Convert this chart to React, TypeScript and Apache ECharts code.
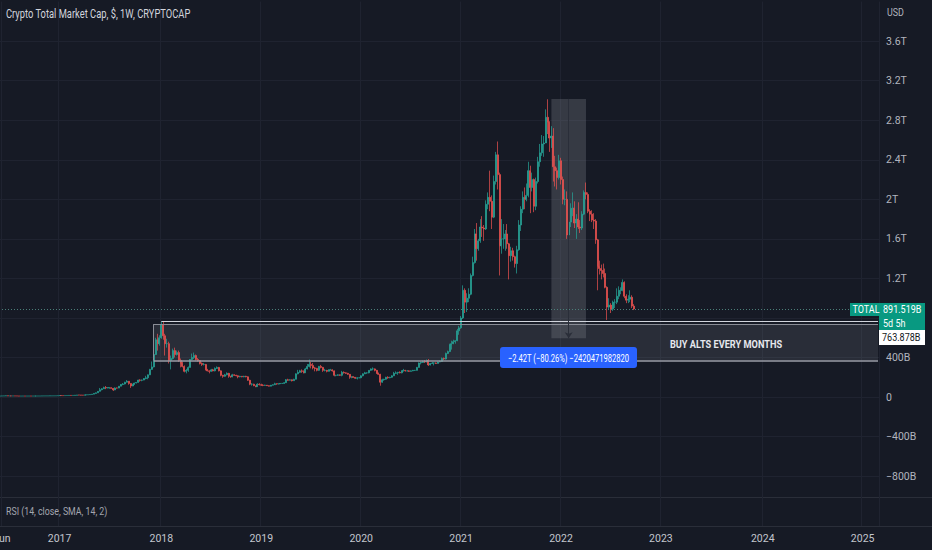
import React, { useEffect, useRef } from 'react';
import * as echarts from 'echarts';

// ---------- data (values in billions of USD, weekly candles from 2016-05-23) ----------
const WEEK_START_UTC = Date.UTC(2016, 4, 23);
const WEEK_COUNT = 458; // visible weekly slots up to mid-2025
const firstOpen = 10.2;

const closes = [
  // 2016
  10.5, 11.5, 12.0, 12.8, 11.5, 11.8, 11.4, 11.6, 11.4, 10.9, 10.0, 10.2, 10.3, 10.2, 10.4, 10.6,
  10.4, 10.4, 10.5, 10.6, 10.7, 10.8, 11.6, 11.7, 11.9, 11.9, 12.2, 12.6, 12.6, 12.9, 14.2, 16.0,
  // 2017
  15.0, 14.8, 15.2, 15.4, 16.8, 16.4, 17.0, 18.6, 20.6, 20.4, 19.5, 18.8, 21.8, 22.6, 24.0, 25.5,
  29.5, 37.0, 43.0, 58.0, 75.0, 84.0, 96.0, 92.0, 95.0, 95.0, 88.0, 72.0, 92.0, 91.0, 110.0, 128.0,
  132.0, 150.0, 160.0, 138.0, 112.0, 128.0, 142.0, 148.0, 172.0, 170.0, 172.0, 188.0, 195.0, 225.0,
  280.0, 305.0, 430.0, 580.0, 540.0, 600.0,
  // 2018
  730, 620, 540, 540, 370, 390, 470, 430, 450, 370, 340, 310, 260, 270, 300, 380, 400, 420, 380, 370,
  340, 330, 330, 275, 265, 260, 275, 265, 290, 300, 265, 220, 210, 225, 240, 210, 205, 225, 220, 215,
  205, 210, 205, 210, 205, 170, 130, 130, 115, 105, 130, 125,
  // 2019
  120, 118, 120, 115, 110, 120, 125, 135, 132, 135, 138, 138, 145, 175, 170, 175, 165, 180, 235, 250,
  265, 260, 245, 285, 310, 330, 320, 295, 290, 270, 310, 300, 270, 270, 260, 275, 275, 265, 220, 220,
  225, 220, 250, 245, 240, 230, 200, 205, 200, 190, 195, 195,
  // 2020
  215, 235, 245, 245, 270, 285, 285, 270, 240, 230, 150, 175, 180, 200, 195, 200, 215, 240, 245, 250,
  245, 265, 270, 265, 265, 260, 265, 270, 270, 300, 345, 350, 360, 355, 370, 325, 340, 345, 345, 340,
  355, 360, 390, 385, 440, 460, 530, 540, 560, 570, 670, 700,
  // 2021
  800, 1080, 960, 1000, 1040, 1230, 1360, 1650, 1500, 1580, 1720, 1710, 1700, 1950, 2020, 1980, 1820,
  2180, 2450, 2250, 1530, 1600, 1600, 1650, 1550, 1430, 1480, 1420, 1350, 1490, 1740, 1900, 2020, 2000,
  2040, 2290, 2120, 2200, 1930, 2180, 2380, 2470, 2560, 2570, 2830, 2780, 2620, 2640, 2330, 2290, 2220,
  2390,
  // 2022
  2200, 2000, 2000, 1640, 1770, 1910, 1910, 1760, 1800, 1720, 1710, 1850, 2070, 2050, 1880, 1850, 1790,
  1780, 1590, 1320, 1300, 1280, 1250, 1110, 910, 930, 890, 960, 960, 1020, 1080, 1080, 1160, 1020, 980,
  990, 1010, 920, 891.519,
];

const highs = [
  // 2016
  10.9, 11.8, 12.4, 14.5, 13.2, 12.0, 11.9, 11.9, 11.7, 11.4, 11.0, 10.4, 10.5, 10.5, 10.6, 10.8,
  10.7, 10.6, 10.7, 10.8, 10.9, 11.0, 12.0, 12.1, 12.1, 12.2, 12.4, 12.8, 12.9, 13.1, 14.4, 16.8,
  // 2017
  17.8, 15.5, 15.5, 15.6, 17.0, 17.6, 17.2, 18.8, 21.0, 21.5, 21.0, 20.0, 22.5, 23.2, 24.5, 26.0,
  30.0, 38.0, 46.0, 60.0, 92.0, 90.0, 105.0, 112.0, 102.0, 99.0, 98.0, 89.0, 98.0, 96.0, 112.0, 132.0,
  142.0, 155.0, 172.0, 162.0, 140.0, 135.0, 145.0, 150.0, 175.0, 180.0, 177.0, 192.0, 215.0, 228.0,
  285.0, 360.0, 440.0, 600.0, 640.0, 625.0,
  // 2018
  765, 760, 640, 590, 560, 420, 490, 500, 470, 470, 390, 360, 320, 285, 310, 385, 440, 450, 430, 395,
  375, 350, 345, 335, 285, 270, 285, 285, 300, 310, 305, 270, 225, 235, 250, 245, 215, 235, 230, 225,
  220, 215, 210, 215, 215, 210, 175, 140, 135, 115, 140, 140,
  // 2019
  135, 130, 125, 122, 118, 122, 128, 145, 138, 138, 140, 142, 150, 182, 185, 180, 178, 185, 240, 275,
  275, 280, 270, 295, 335, 380, 355, 345, 305, 295, 315, 325, 305, 285, 275, 280, 285, 280, 268, 225,
  230, 228, 265, 260, 250, 245, 232, 210, 210, 202, 200, 200,
  // 2020
  220, 240, 255, 250, 272, 290, 300, 290, 275, 248, 235, 185, 185, 205, 210, 205, 220, 255, 260, 255,
  260, 270, 285, 275, 272, 270, 268, 275, 275, 305, 350, 360, 370, 375, 380, 385, 345, 355, 350, 350,
  360, 370, 400, 400, 450, 470, 540, 570, 580, 575, 690, 720,
  // 2021
  820, 1130, 1100, 1050, 1100, 1250, 1420, 1700, 1760, 1600, 1800, 1830, 1740, 1990, 2070, 2290, 2040,
  2240, 2480, 2585, 2270, 1800, 1750, 1690, 1750, 1560, 1520, 1510, 1430, 1530, 1790, 1930, 2080, 2120,
  2160, 2380, 2340, 2270, 2210, 2220, 2430, 2560, 2650, 2640, 2910, 3012, 2790, 2740, 2720, 2440, 2320,
  2450,
  // 2022
  2420, 2230, 2100, 2080, 1810, 1960, 2070, 1980, 1850, 1970, 1790, 1880, 2090, 2170, 2070, 1900, 1890,
  1860, 1800, 1600, 1380, 1340, 1350, 1300, 1120, 1000, 950, 975, 990, 1100, 1120, 1110, 1190, 1170,
  1040, 1030, 1080, 1030, 940,
];

const lows = [
  // 2016
  10.0, 10.4, 11.4, 11.8, 10.8, 11.2, 11.2, 11.2, 11.2, 10.8, 9.2, 9.9, 10.1, 10.0, 10.1, 10.3,
  10.3, 10.2, 10.3, 10.4, 10.5, 10.6, 10.7, 11.3, 11.5, 11.7, 11.8, 12.1, 12.4, 12.5, 12.8, 14.0,
  // 2017
  13.5, 14.2, 14.6, 15.0, 15.3, 15.8, 16.3, 17.0, 18.5, 18.2, 17.8, 16.8, 18.7, 21.5, 22.4, 23.8,
  25.4, 29.4, 36.0, 43.0, 57.0, 68.0, 83.0, 80.0, 88.0, 84.0, 86.0, 62.0, 70.0, 86.0, 90.0, 108.0,
  120.0, 128.0, 148.0, 125.0, 92.0, 110.0, 125.0, 138.0, 146.0, 155.0, 160.0, 170.0, 180.0, 180.0,
  222.0, 290.0, 300.0, 425.0, 470.0, 520.0,
  // 2018
  590, 580, 420, 500, 340, 280, 380, 400, 420, 355, 300, 300, 250, 240, 255, 300, 370, 385, 370, 360,
  330, 315, 320, 270, 260, 240, 255, 260, 260, 285, 260, 210, 195, 205, 220, 195, 195, 200, 215, 210,
  190, 200, 200, 200, 200, 165, 120, 115, 110, 100, 105, 118,
  // 2019
  112, 110, 115, 112, 108, 108, 118, 122, 125, 128, 132, 134, 135, 143, 165, 168, 158, 163, 178, 230,
  245, 245, 240, 245, 280, 300, 290, 280, 260, 260, 265, 290, 255, 260, 250, 258, 268, 258, 210, 210,
  215, 215, 210, 238, 235, 225, 185, 190, 195, 185, 178, 190,
  // 2020
  190, 210, 232, 235, 240, 265, 270, 260, 235, 225, 115, 145, 165, 175, 185, 190, 195, 212, 235, 225,
  240, 240, 258, 258, 258, 255, 258, 262, 265, 268, 298, 330, 345, 345, 350, 315, 320, 335, 320, 335,
  338, 352, 358, 375, 380, 435, 455, 480, 535, 540, 565, 630,
  // 2021
  690, 790, 850, 860, 960, 1030, 1220, 1350, 1380, 1480, 1560, 1620, 1580, 1690, 1900, 1880, 1700,
  1810, 2150, 2100, 1230, 1450, 1500, 1480, 1500, 1190, 1370, 1380, 1310, 1250, 1480, 1680, 1860, 1900,
  1980, 2020, 1860, 2080, 1870, 1890, 2160, 2330, 2440, 2430, 2570, 2660, 2480, 2520, 2180, 2130, 2100,
  2200,
  // 2022
  2150, 1950, 1940, 1600, 1550, 1720, 1830, 1710, 1600, 1700, 1660, 1690, 1840, 2000, 1860, 1780, 1770,
  1700, 1550, 1080, 1240, 1190, 1210, 1100, 780, 880, 850, 870, 900, 940, 990, 1040, 1070, 1000, 950,
  950, 960, 900, 880,
];

// price scale (billions)
const PRICE_MIN = -1200;
const PRICE_MAX = 4000;
const PRICE_STEP = 400;
const HIDDEN_PRICE_TICKS = [800];
const TIME_TEXT_LABELS: Record<string, string> = { '2016-05-30': 'Jun' };

// annotations
const LAST_PRICE = 891.519;
const LAST_PRICE_TEXT = '891.519B';
const COUNTDOWN_TEXT = '5d 5h';
const SYMBOL_TEXT = 'TOTAL';
const RAY_PRICE = 763.878;
const RAY_PRICE_TEXT = '763.878B';
const RAY_FROM_WEEK = 84;
const BOX_TOP = 738;
const BOX_BOTTOM = 370;
const BOX_FROM_WEEK = 80;
const BOX_TEXT = 'BUY ALTS EVERY MONTHS';
const RANGE_FROM_PRICE = 3015.8;
const RANGE_TO_PRICE = 595.3;
const RANGE_FROM_WEEK = 287;
const RANGE_TO_WEEK = 305;
const RANGE_MID_WEEK = 296;
const RANGE_TEXT = '\u22122.42T (\u221280.26%) \u22122420471982820';
const TITLE_TEXT = 'Crypto Total Market Cap, $, 1W, CRYPTOCAP';
const RSI_TEXT = 'RSI (14, close, SMA, 14, 2)';
const CURRENCY_TEXT = 'USD';

// ---------- styling ----------
const BG = '#161a25';
const GRID_LINE = '#1f2330';
const TEXT = '#b2b5be';
const UP = '#26a69a';
const DOWN = '#ef5350';
const FONT = 'Roboto, sans-serif';

const DAY = 864e5;
const weekDates: string[] = [];
for (let i = 0; i < WEEK_COUNT; i++) {
  weekDates.push(new Date(WEEK_START_UTC + i * 7 * DAY).toISOString().slice(0, 10));
}

function timeLabel(i: number): string {
  const d = new Date(WEEK_START_UTC + i * 7 * DAY);
  const e = new Date(d.getTime() + 6 * DAY);
  const key = weekDates[i];
  if (TIME_TEXT_LABELS[key]) return TIME_TEXT_LABELS[key];
  if (e.getUTCFullYear() !== d.getUTCFullYear() || (d.getUTCMonth() === 0 && d.getUTCDate() === 1)) {
    return String(e.getUTCFullYear());
  }
  return '';
}

function priceLabel(v: number): string {
  if (v === 0) return '0';
  if (HIDDEN_PRICE_TICKS.includes(v) || v >= PRICE_MAX) return '';
  const a = Math.abs(v);
  const s = a >= 1000 ? `${+(a / 1000).toFixed(1)}T` : `${a}B`;
  return v < 0 ? '\u2212' + s : s;
}

const candles = closes.map((c, i) => [i === 0 ? firstOpen : closes[i - 1], c, lows[i], highs[i]]);

const showTime = (i: number) => timeLabel(i) !== '';

function txt(text: string, x: number, y: number, size: number, fill: string, sx: number, extra: any = {}) {
  return {
    type: 'text', silent: true, x, y, scaleX: sx,
    style: { text, fill, font: `${extra.bold ? 'bold ' : ''}${size}px ${FONT}`, verticalAlign: 'middle', align: extra.align || 'left' },
    z: 100,
  };
}

function buildOption(): any {
  const lastCat = weekDates[WEEK_COUNT - 1];
  return {
    animation: false,
    backgroundColor: BG,
    textStyle: { fontFamily: FONT },
    grid: [
      { left: -1, width: 880, top: 1.6, height: 514.1, outerBoundsMode: 'none', containLabel: false },
      { left: -1, width: 880, top: 498, height: 28, outerBoundsMode: 'none', containLabel: false },
    ],
    xAxis: [
      {
        type: 'category', gridIndex: 0, data: weekDates, boundaryGap: true,
        axisLine: { show: false }, axisTick: { show: false }, axisLabel: { show: false },
        splitLine: { show: true, interval: (i: number) => showTime(i), lineStyle: { color: GRID_LINE, width: 1 } },
      },
      {
        type: 'category', gridIndex: 1, data: weekDates, boundaryGap: true,
        axisLine: { show: false }, axisTick: { show: false },
        axisLabel: {
          show: true, interval: (i: number) => showTime(i), formatter: (_v: string, i: number) => timeLabel(i),
          color: '#c3c6ce', fontSize: 10.5, margin: 7, fontFamily: FONT, hideOverlap: false,
        },
        splitLine: { show: true, interval: (i: number) => showTime(i), lineStyle: { color: GRID_LINE, width: 1 } },
      },
    ],
    yAxis: [
      {
        type: 'value', gridIndex: 0, position: 'right', min: PRICE_MIN, max: PRICE_MAX, interval: PRICE_STEP,
        axisLine: { show: false }, axisTick: { show: false },
        axisLabel: {
          formatter: (v: number) => priceLabel(v), color: TEXT, fontSize: 10.5, margin: 7,
          showMinLabel: false, showMaxLabel: false, fontFamily: FONT,
        },
        splitLine: { show: true, showMinLine: false, showMaxLine: false, lineStyle: { color: GRID_LINE, width: 1 } },
      },
      { type: 'value', gridIndex: 1, show: false, min: 0, max: 100 },
    ],
    series: [
      {
        type: 'candlestick', xAxisIndex: 0, yAxisIndex: 0, data: candles, barWidth: 1.5,
        itemStyle: { color: UP, color0: DOWN, borderColor: UP, borderColor0: DOWN, borderWidth: 0.7 },
        markArea: {
          silent: true,
          data: [
            [
              { xAxis: weekDates[BOX_FROM_WEEK], yAxis: BOX_TOP, itemStyle: { color: 'rgba(120,123,134,0.2)' } },
              { xAxis: lastCat, yAxis: BOX_BOTTOM },
            ],
            [
              { xAxis: weekDates[RANGE_FROM_WEEK], yAxis: RANGE_FROM_PRICE, itemStyle: { color: 'rgba(120,123,134,0.33)' } },
              { xAxis: weekDates[RANGE_TO_WEEK], yAxis: RANGE_TO_PRICE },
            ],
          ],
        },
        markLine: {
          silent: true, symbol: ['none', 'none'], label: { show: false },
          data: [
            { yAxis: LAST_PRICE, lineStyle: { color: '#4b7f79', type: [1, 2], width: 1 } },
            [
              { coord: [weekDates[RAY_FROM_WEEK], RAY_PRICE], lineStyle: { color: '#d1d4dc', width: 1, type: 'solid' } },
              { coord: [lastCat, RAY_PRICE] },
            ],
            [
              { coord: [weekDates[BOX_FROM_WEEK], BOX_TOP], lineStyle: { color: '#8a8d96', width: 1, type: 'solid' } },
              { coord: [lastCat, BOX_TOP] },
            ],
            [
              { coord: [weekDates[BOX_FROM_WEEK], BOX_BOTTOM], lineStyle: { color: '#9a9da6', width: 1.5, type: 'solid' } },
              { coord: [lastCat, BOX_BOTTOM] },
            ],
            [
              { coord: [weekDates[BOX_FROM_WEEK], BOX_TOP], lineStyle: { color: '#8a8d96', width: 1, type: 'solid' } },
              { coord: [weekDates[BOX_FROM_WEEK], BOX_BOTTOM] },
            ],
            [
              { coord: [weekDates[RANGE_MID_WEEK], RANGE_FROM_PRICE], lineStyle: { color: '#2a2e39', width: 1, type: 'solid' }, symbol: 'none' },
              { coord: [weekDates[RANGE_MID_WEEK], RANGE_TO_PRICE], symbol: 'arrow', symbolSize: 6 },
            ],
          ],
        },
      },
    ],
    graphic: [
      { type: 'line', silent: true, shape: { x1: 0, y1: 497.5, x2: 932, y2: 497.5 }, style: { stroke: '#2a2e39', lineWidth: 1 } },
      { type: 'line', silent: true, shape: { x1: 0, y1: 526.5, x2: 932, y2: 526.5 }, style: { stroke: '#2a2e39', lineWidth: 1 } },
      txt(TITLE_TEXT, 6, 14, 12, '#d1d4dc', 0.78),
      txt(CURRENCY_TEXT, 887, 12, 10.5, TEXT, 0.85),
      txt(RSI_TEXT, 6, 511, 11, '#a3a6af', 0.8),
      txt(BOX_TEXT, 726, 344, 11.5, '#e6e8ee', 0.8, { bold: true, align: 'center' }),
      { type: 'rect', silent: true, z: 99, shape: { x: 500, y: 347, width: 137, height: 21, r: 3 }, style: { fill: '#2962ff' } },
      txt(RANGE_TEXT, 568.5, 357.5, 11, '#ffffff', 0.69, { align: 'center' }),
      { type: 'rect', silent: true, z: 99, shape: { x: 850, y: 303, width: 30, height: 13 }, style: { fill: '#089981' } },
      { type: 'rect', silent: true, z: 99, shape: { x: 879, y: 303, width: 46, height: 27 }, style: { fill: '#089981' } },
      txt(SYMBOL_TEXT, 852.5, 309.5, 11, '#ffffff', 0.82),
      txt(LAST_PRICE_TEXT, 883, 309.5, 11, '#ffffff', 0.82),
      txt(COUNTDOWN_TEXT, 883, 323, 11, '#ffffff', 0.82),
      { type: 'rect', silent: true, z: 99, shape: { x: 879, y: 330, width: 46, height: 15 }, style: { fill: '#ffffff' } },
      txt(RAY_PRICE_TEXT, 882, 337.5, 11, '#131722', 0.82),
    ],
  };
}

export default function App() {
  const ref = useRef<HTMLDivElement>(null);
  useEffect(() => {
    if (!ref.current) return;
    const chart = echarts.init(ref.current, null, { renderer: 'svg' });
    chart.setOption(buildOption());
    return () => chart.dispose();
  }, []);
  return (
    <div style={{ position: 'fixed', left: 0, top: 0, width: 932, height: 550, background: BG }}>
      <div ref={ref} style={{ width: 932, height: 550 }} />
    </div>
  );
}
